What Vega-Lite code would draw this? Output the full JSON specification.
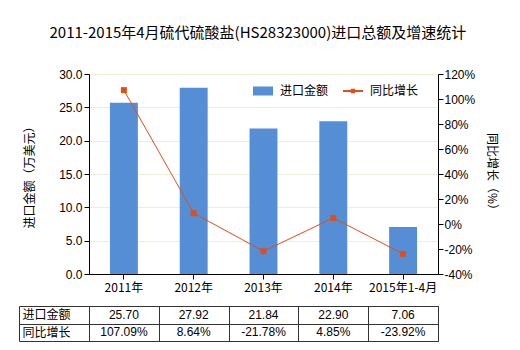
{
  "$schema": "https://vega.github.io/schema/vega-lite/v6.json",
  "autosize": {"type": "pad"},
  "padding": {"left": 18, "top": 26, "right": 5, "bottom": 5},
  "background": "white",
  "title": {
    "text": "2011-2015年4月硫代硫酸盐(HS28323000)进口总额及增速统计",
    "font": "Noto Sans CJK SC",
    "fontSize": 15,
    "fontWeight": "normal",
    "color": "#000000",
    "anchor": "middle",
    "offset": 27
  },
  "config": {
    "font": "Noto Sans CJK SC",
    "locale": {"number": {"decimal": ".", "thousands": ",", "grouping": [3], "currency": ["$", ""], "minus": "-"}},
    "view": {"stroke": null},
    "axis": {
      "labelFont": "Liberation Sans",
      "labelFontSize": 12,
      "labelColor": "#000000",
      "titleFont": "Noto Sans CJK SC",
      "titleFontSize": 12,
      "titleFontWeight": "normal",
      "titleColor": "#000000",
      "domainColor": "#000000",
      "tickColor": "#000000",
      "tickSize": 5
    },
    "concat": {"spacing": 6}
  },
  "datasets": {
    "d": [
      {"year": "2011年", "amount": 25.70, "growth": 1.0709},
      {"year": "2012年", "amount": 27.92, "growth": 0.0864},
      {"year": "2013年", "amount": 21.84, "growth": -0.2178},
      {"year": "2014年", "amount": 22.90, "growth": 0.0485},
      {"year": "2015年1-4月", "amount": 7.06, "growth": -0.2392}
    ]
  },
  "vconcat": [
    {
      "width": 349,
      "height": 200,
      "data": {"name": "d"},
      "layer": [
        {
          "mark": {"type": "bar", "color": "#558ed5"},
          "encoding": {
            "x": {
              "field": "year", "type": "nominal", "sort": null,
              "scale": {"paddingInner": 0.6, "paddingOuter": 0.3},
              "axis": {"title": null, "labelAngle": 0, "labelFont": "Noto Sans CJK SC", "labelPadding": 3}
            },
            "y": {
              "field": "amount", "type": "quantitative",
              "scale": {"domain": [0, 30]},
              "axis": {
                "title": "进口金额（万美元）",
                "values": [0, 5, 10, 15, 20, 25, 30],
                "format": ".1f",
                "grid": true,
                "gridColor": "#eeeed8",
                "titlePadding": 22,
                "labelPadding": 2
              }
            },
            "color": {
              "datum": "进口金额",
              "type": "nominal",
              "scale": {"domain": ["进口金额", "同比增长"], "range": ["#558ed5", "#e04e1b"]},
              "legend": {
                "title": null,
                "orient": "none",
                "legendX": 164,
                "legendY": 7,
                "direction": "horizontal",
                "labelFont": "Noto Sans CJK SC",
                "labelFontSize": 12,
                "labelColor": "#000000",
                "labelOffset": 7,
                "columnPadding": 14,
                "symbolSize": 400,
                "symbolStrokeWidth": 0,
                "encode": {
                  "symbols": {
                    "update": {
                      "shape": {"signal": "datum.value === '进口金额' ? 'M-1,-0.45H1V0.45H-1Z' : 'M-1,-0.09H1V0.09H-1Z M-0.22,-0.22H0.22V0.22H-0.22Z'"},
                      "fill": {"signal": "datum.value === '进口金额' ? '#558ed5' : '#e04e1b'"},
                      "strokeWidth": {"value": 0},
                      "opacity": {"value": 1}
                    }
                  }
                }
              }
            }
          }
        },
        {
          "mark": {
            "type": "line",
            "strokeWidth": 1,
            "point": {"shape": "square", "size": 36, "filled": true, "color": "#e04a14", "opacity": 1}
          },
          "encoding": {
            "x": {"field": "year", "type": "nominal", "sort": null},
            "y": {
              "field": "growth", "type": "quantitative",
              "scale": {"domain": [-0.4, 1.2]},
              "axis": {
                "orient": "right",
                "title": "同比增长（%）",
                "values": [-0.4, -0.2, 0, 0.2, 0.4, 0.6, 0.8, 1.0, 1.2],
                "format": ".0%",
                "grid": false,
                "titlePadding": 10,
                "labelPadding": 1
              }
            },
            "color": {"datum": "同比增长", "type": "nominal"}
          }
        }
      ],
      "resolve": {"scale": {"y": "independent"}}
    },
    {
      "width": 349,
      "height": 35,
      "view": {"stroke": "#333333", "strokeWidth": 1},
      "data": {"name": "d"},
      "encoding": {
        "x": {
          "field": "year", "type": "nominal", "sort": null,
          "scale": {"paddingInner": 0, "paddingOuter": 0},
          "axis": {
            "title": null, "labels": false, "ticks": false, "domain": false,
            "grid": true, "gridColor": "#333333", "tickBand": "extent"
          }
        }
      },
      "layer": [
        {
          "mark": {"type": "text", "font": "Liberation Sans", "fontSize": 12, "color": "#000000"},
          "encoding": {
            "y": {
              "datum": "进口金额", "type": "nominal",
              "scale": {"domain": ["进口金额", "同比增长"], "paddingInner": 0, "paddingOuter": 0},
              "axis": {
                "title": null,
                "offset": 70,
                "domainColor": "#333333",
                "tickColor": "#333333",
                "tickSize": -70,
                "tickBand": "extent",
                "grid": true,
                "gridColor": "#333333",
                "labelAlign": "left",
                "labelPadding": 67,
                "labelFont": "Noto Sans CJK SC",
                "labelFontSize": 12
              }
            },
            "text": {"field": "amount", "type": "quantitative", "format": ".2f"}
          }
        },
        {
          "mark": {"type": "text", "font": "Liberation Sans", "fontSize": 12, "color": "#000000"},
          "encoding": {
            "y": {"datum": "同比增长", "type": "nominal"},
            "text": {"field": "growth", "type": "quantitative", "format": ".2%"}
          }
        }
      ]
    }
  ]
}
